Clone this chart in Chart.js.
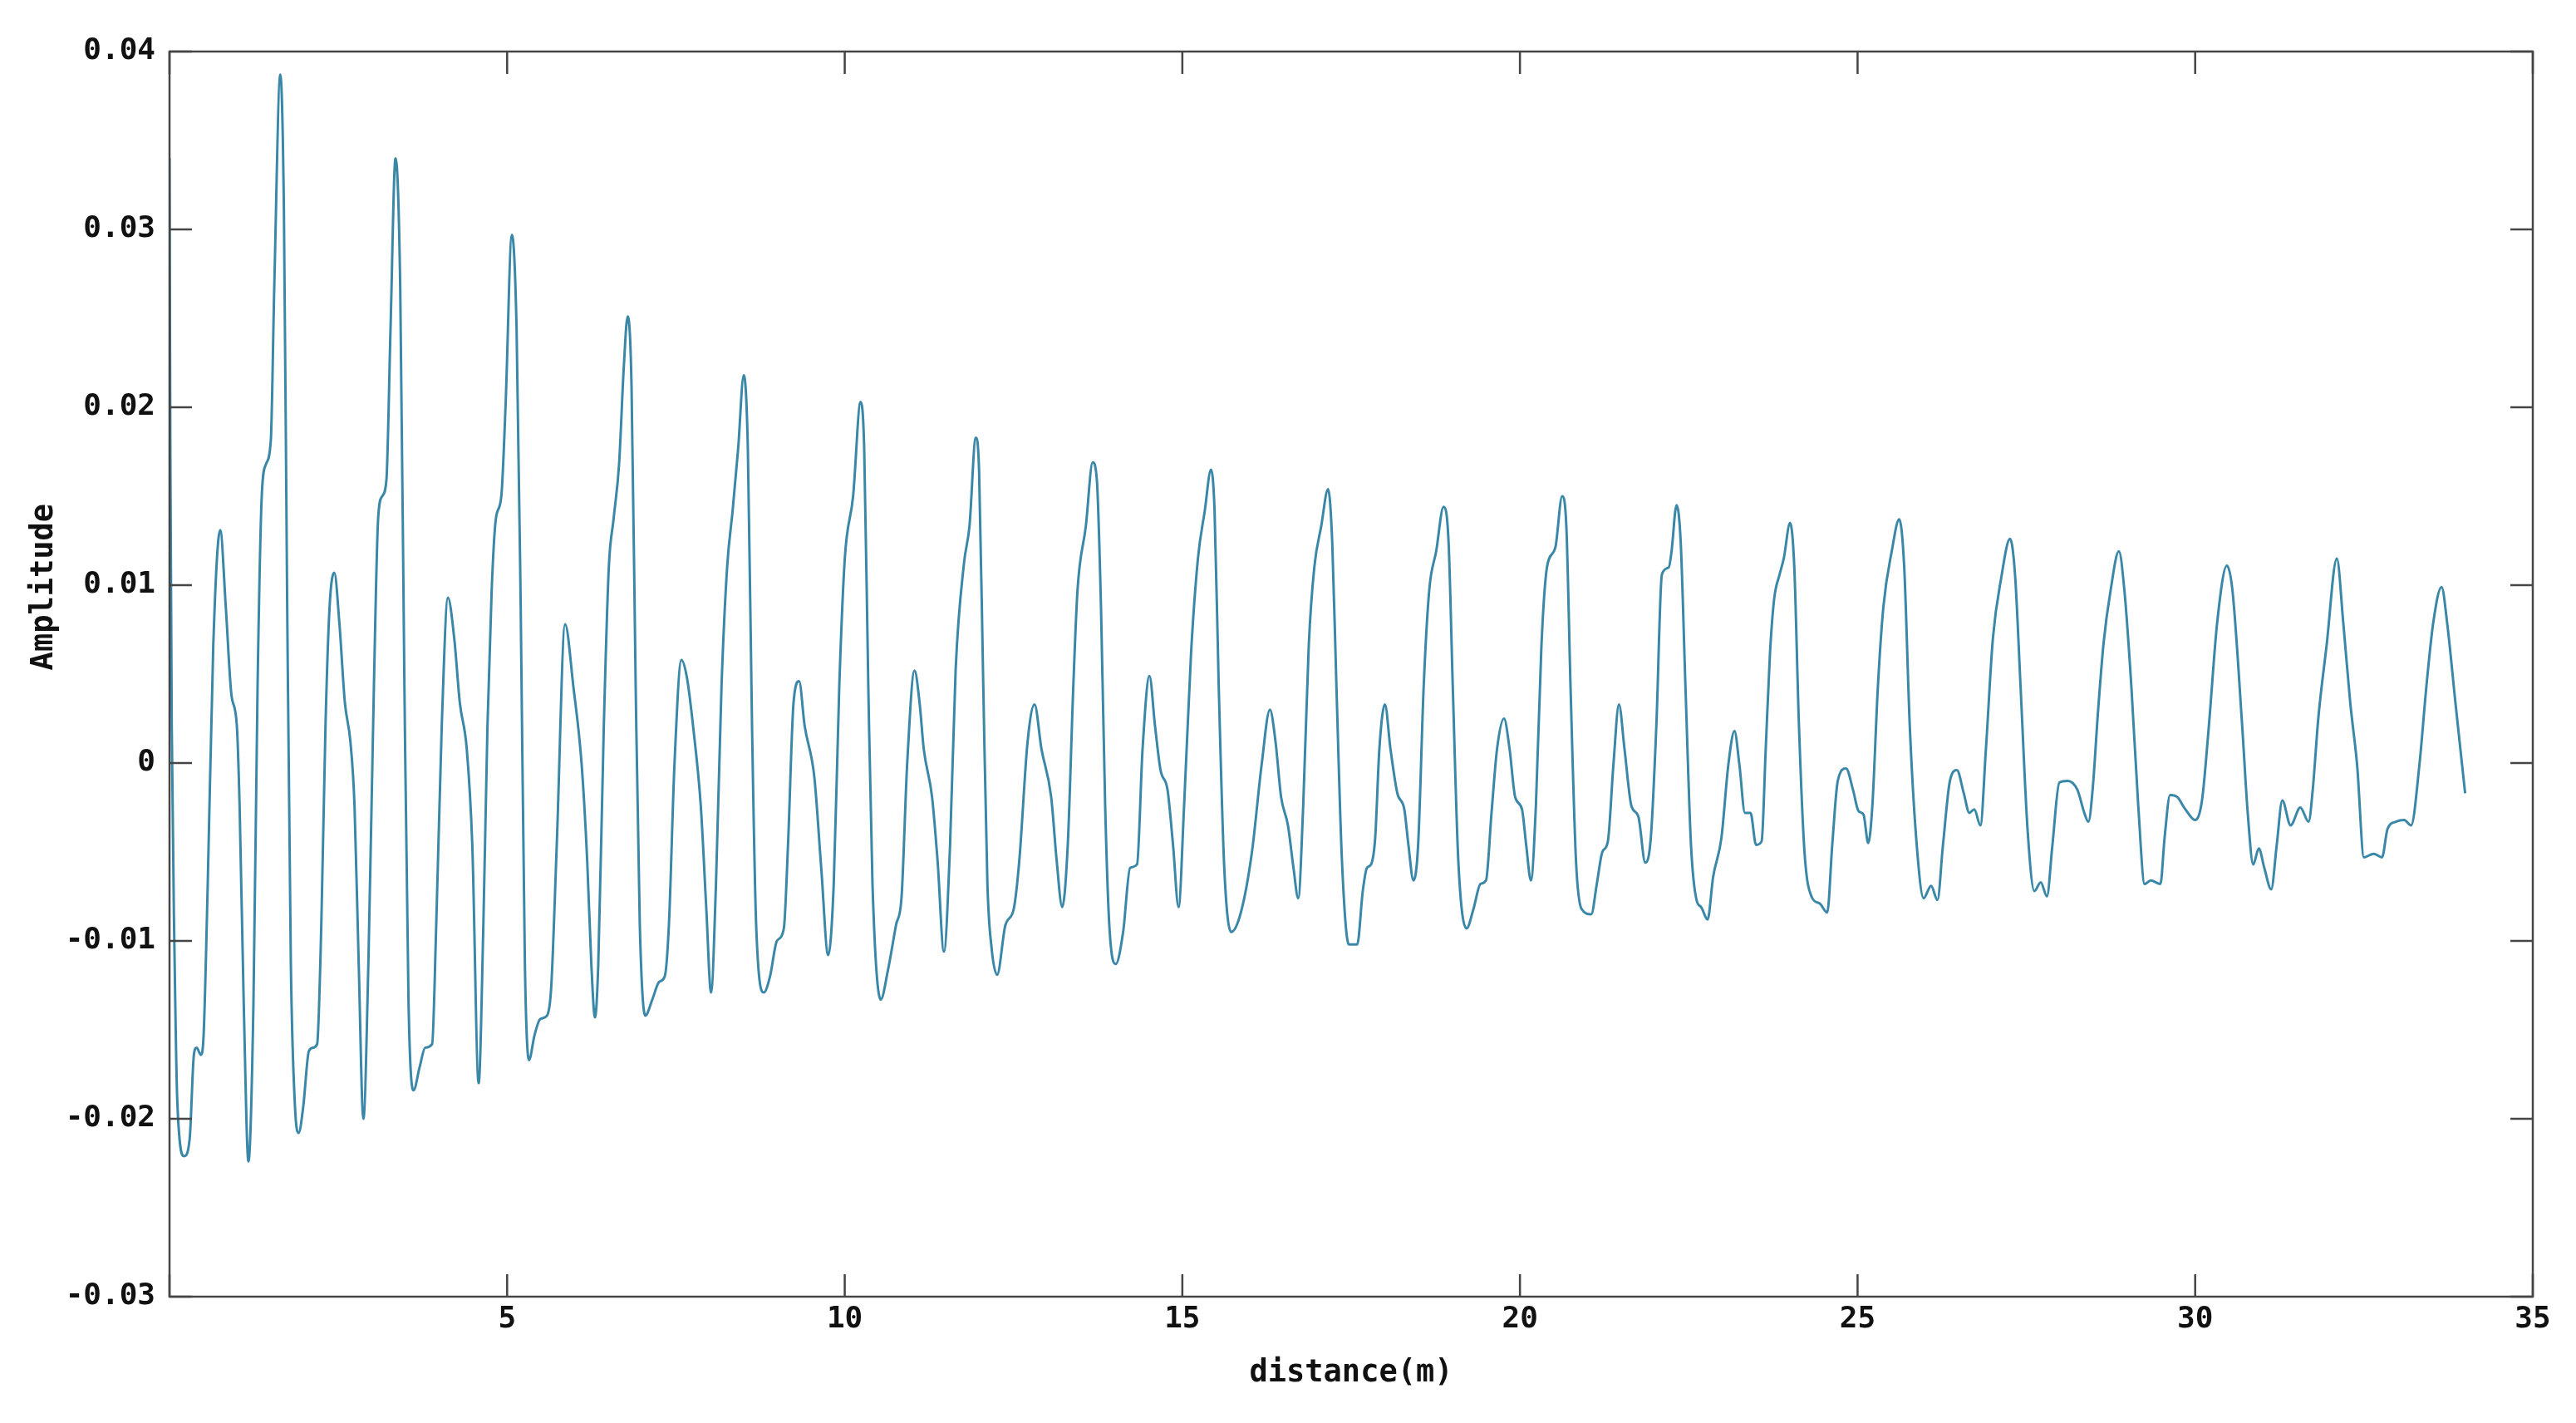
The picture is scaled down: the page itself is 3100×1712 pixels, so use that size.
<!DOCTYPE html>
<html>
<head>
<meta charset="utf-8">
<title>Amplitude vs distance</title>
<script src="https://cdn.jsdelivr.net/npm/chart.js@4.4.1/dist/chart.umd.min.js"></script>
<style>
  html, body { margin: 0; padding: 0; background: #fff; }
  canvas { display: block; }
</style>
</head>
<body>
<canvas id="waveChart" width="3100" height="1712"></canvas>
<script>
// distance (m)
const distance = [
  0, 0.012, 0.033, 0.074, 0.115, 0.217, 0.299, 0.361, 0.402, 0.464, 0.505, 0.566, 0.648, 0.751, 0.833, 0.915, 0.997,
  1.038, 1.099, 1.169, 1.243, 1.304, 1.366, 1.428, 1.501, 1.551, 1.641, 1.694, 1.743, 1.797, 1.858, 1.912, 1.981,
  2.063, 2.125, 2.186, 2.248, 2.310, 2.371, 2.441, 2.515, 2.597, 2.679, 2.740, 2.802, 2.871, 2.945,
  3.027, 3.089, 3.150, 3.212, 3.273, 3.347, 3.417, 3.479, 3.540, 3.614, 3.704, 3.786, 3.889, 3.950,
  4.032, 4.123, 4.217, 4.299, 4.402, 4.484, 4.578, 4.648, 4.709, 4.771, 4.832, 4.914, 4.976,
  5.070, 5.140, 5.201, 5.263, 5.324, 5.406, 5.488, 5.591, 5.653, 5.735, 5.858, 5.981,
  6.104, 6.186, 6.247, 6.301, 6.350, 6.432, 6.506, 6.576, 6.658, 6.727, 6.785, 6.842, 6.904, 6.965,
  7.047, 7.150, 7.252, 7.334, 7.396, 7.478, 7.581, 7.663, 7.765, 7.868, 7.950,
  8.020, 8.093, 8.175, 8.258, 8.340, 8.422, 8.504, 8.565, 8.627, 8.688, 8.803, 8.893, 8.996,
  9.098, 9.160, 9.242, 9.324, 9.406, 9.550, 9.652, 9.755, 9.837, 9.919,
  10.001, 10.124, 10.235, 10.288, 10.349, 10.411, 10.534, 10.637, 10.760, 10.842, 10.924,
  11.034, 11.108, 11.170, 11.293, 11.375, 11.469, 11.560, 11.642, 11.765, 11.847, 11.941, 11.990,
  12.052, 12.113, 12.175, 12.257, 12.380, 12.503, 12.585, 12.708, 12.811, 12.913,
  13.057, 13.139, 13.221, 13.303, 13.385, 13.447, 13.570, 13.672, 13.734, 13.795, 13.857, 13.918,
  14.013, 14.123, 14.226, 14.329, 14.411, 14.513, 14.595, 14.677, 14.780, 14.862, 14.944,
  15.026, 15.128, 15.231, 15.333, 15.424, 15.477, 15.539, 15.621, 15.723, 15.867,
  16.031, 16.174, 16.297, 16.380, 16.462, 16.564, 16.646, 16.716, 16.790, 16.872, 16.954,
  17.056, 17.159, 17.220, 17.282, 17.364, 17.466, 17.590, 17.672, 17.733, 17.795, 17.856, 17.918,
  18.000, 18.082, 18.184, 18.287, 18.348, 18.422, 18.492, 18.574, 18.656, 18.759, 18.869, 18.943,
  19.005, 19.087, 19.210, 19.312, 19.415, 19.497, 19.579, 19.661, 19.764, 19.846, 19.928,
  20.030, 20.092, 20.162, 20.236, 20.318, 20.400, 20.523, 20.625, 20.687, 20.749, 20.830, 20.912,
  21.056, 21.138, 21.220, 21.302, 21.384, 21.466, 21.548, 21.650, 21.753, 21.856, 21.938,
  22.020, 22.102, 22.204, 22.245, 22.319, 22.381, 22.451, 22.533, 22.615, 22.684, 22.779, 22.861, 22.984,
  23.086, 23.177, 23.250, 23.332, 23.414, 23.497, 23.579, 23.640, 23.702, 23.764, 23.845, 23.907,
  24.001, 24.063, 24.132, 24.214, 24.317, 24.440, 24.551, 24.625, 24.707, 24.830, 24.932,
  25.014, 25.088, 25.158, 25.219, 25.301, 25.383, 25.506, 25.617, 25.691, 25.773, 25.876, 25.978,
  26.089, 26.183, 26.265, 26.368, 26.471, 26.573, 26.655, 26.729, 26.819, 26.901,
  27.004, 27.127, 27.258, 27.332, 27.414, 27.517, 27.619, 27.713, 27.804, 27.886, 27.988,
  28.111, 28.255, 28.358, 28.419, 28.481, 28.563, 28.645, 28.747, 28.870, 28.952,
  29.055, 29.157, 29.252, 29.342, 29.485, 29.547, 29.629, 29.731, 29.854, 29.998,
  30.101, 30.203, 30.326, 30.470, 30.552, 30.696, 30.778, 30.860, 30.942,
  31.024, 31.126, 31.208, 31.290, 31.413, 31.557, 31.680, 31.741, 31.823, 31.946,
  32.098, 32.193, 32.296, 32.398, 32.500, 32.644, 32.767, 32.849, 32.972,
  33.095, 33.198, 33.321, 33.424, 33.526, 33.649, 33.731, 33.854, 33.998
];

// amplitude at each distance
const amplitude = [
  0.0340, 0.0174, 0.0021, -0.0107, -0.0190, -0.0221, -0.0211, -0.0164, -0.0160, -0.0164, -0.0153, -0.0068, 0.0066, 0.0131, 0.0088, 0.0039, 0.0021,
  -0.0024, -0.0135, -0.0224, -0.0135, 0.0043, 0.0150, 0.0168, 0.0182, 0.0267, 0.0387, 0.0311, 0.0088, -0.0113, -0.0193, -0.0208, -0.0193,
  -0.0162, -0.0160, -0.0158, -0.0091, 0.0021, 0.0088, 0.0107, 0.0079, 0.0034, 0.0012, -0.0024, -0.0113, -0.0200, -0.0113,
  0.0043, 0.0137, 0.0150, 0.0159, 0.0244, 0.0340, 0.0267, 0.0043, -0.0135, -0.0184, -0.0171, -0.0160, -0.0158, -0.0091,
  0.0021, 0.0093, 0.0070, 0.0034, 0.0008, -0.0046, -0.0180, -0.0091, 0.0021, 0.0097, 0.0137, 0.0150, 0.0200,
  0.0297, 0.0244, 0.0088, -0.0113, -0.0167, -0.0153, -0.0144, -0.0142, -0.0126, -0.0046, 0.0078, 0.0043,
  -0.0001, -0.0055, -0.0113, -0.0143, -0.0113, 0.0021, 0.0110, 0.0137, 0.0168, 0.0222, 0.0251, 0.0213, 0.0043, -0.0091,
  -0.0142, -0.0133, -0.0123, -0.0120, -0.0091, -0.0001, 0.0058, 0.0048, 0.0017, -0.0024, -0.0082,
  -0.0129, -0.0068, 0.0043, 0.0110, 0.0142, 0.0177, 0.0218, 0.0177, 0.0021, -0.0091, -0.0129, -0.0120, -0.0100,
  -0.0093, -0.0046, 0.0034, 0.0046, 0.0021, -0.0008, -0.0059, -0.0108, -0.0068, 0.0043,
  0.0115, 0.0150, 0.0203, 0.0177, 0.0043, -0.0068, -0.0133, -0.0117, -0.0091, -0.0075, -0.0001,
  0.0052, 0.0034, 0.0008, -0.0019, -0.0055, -0.0106, -0.0046, 0.0052, 0.0112, 0.0133, 0.0183, 0.0164,
  0.0043, -0.0068, -0.0104, -0.0119, -0.0091, -0.0082, -0.0055, 0.0012, 0.0033, 0.0008,
  -0.0019, -0.0055, -0.0081, -0.0046, 0.0043, 0.0097, 0.0133, 0.0169, 0.0159, 0.0088, -0.0024, -0.0091,
  -0.0113, -0.0095, -0.0059, -0.0057, 0.0008, 0.0049, 0.0021, -0.0004, -0.0015, -0.0046, -0.0081,
  -0.0024, 0.0061, 0.0115, 0.0142, 0.0165, 0.0142, 0.0043, -0.0059, -0.0095, -0.0084,
  -0.0050, -0.0001, 0.0030, 0.0012, -0.0019, -0.0035, -0.0059, -0.0076, -0.0024, 0.0066, 0.0110,
  0.0133, 0.0154, 0.0124, 0.0043, -0.0055, -0.0102, -0.0102, -0.0072, -0.0059, -0.0057, -0.0042, 0.0008,
  0.0033, 0.0008, -0.0017, -0.0026, -0.0046, -0.0066, -0.0046, 0.0043, 0.0097, 0.0119, 0.0144, 0.0124,
  0.0043, -0.0055, -0.0093, -0.0082, -0.0068, -0.0066, -0.0028, 0.0008, 0.0025, 0.0008, -0.0019,
  -0.0026, -0.0046, -0.0066, -0.0024, 0.0066, 0.0110, 0.0121, 0.0150, 0.0133, 0.0043, -0.0055, -0.0082,
  -0.0085, -0.0068, -0.0050, -0.0044, -0.0001, 0.0033, 0.0008, -0.0024, -0.0030, -0.0056, -0.0042,
  0.0021, 0.0106, 0.0110, 0.0119, 0.0145, 0.0124, 0.0043, -0.0046, -0.0077, -0.0081, -0.0088, -0.0064, -0.0042,
  -0.0001, 0.0018, -0.0001, -0.0028, -0.0028, -0.0046, -0.0044, 0.0008, 0.0061, 0.0092, 0.0106, 0.0115,
  0.0135, 0.0110, 0.0021, -0.0050, -0.0075, -0.0079, -0.0084, -0.0046, -0.0010, -0.0003, -0.0015,
  -0.0027, -0.0029, -0.0045, -0.0024, 0.0043, 0.0088, 0.0119, 0.0137, 0.0110, 0.0021, -0.0046, -0.0076,
  -0.0069, -0.0077, -0.0046, -0.0010, -0.0004, -0.0017, -0.0028, -0.0026, -0.0035, 0.0008,
  0.0070, 0.0104, 0.0126, 0.0106, 0.0043, -0.0037, -0.0072, -0.0067, -0.0075, -0.0046, -0.0011,
  -0.0010, -0.0015, -0.0028, -0.0033, -0.0015, 0.0030, 0.0068, 0.0097, 0.0119, 0.0097,
  0.0043, -0.0024, -0.0068, -0.0066, -0.0068, -0.0042, -0.0018, -0.0019, -0.0026, -0.0032,
  -0.0021, 0.0021, 0.0079, 0.0111, 0.0097, 0.0021, -0.0028, -0.0057, -0.0048,
  -0.0059, -0.0071, -0.0046, -0.0021, -0.0035, -0.0025, -0.0033, -0.0015, 0.0025, 0.0066,
  0.0115, 0.0079, 0.0034, -0.0001, -0.0053, -0.0051, -0.0053, -0.0037, -0.0033,
  -0.0032, -0.0035, -0.0001, 0.0043, 0.0079, 0.0099, 0.0079, 0.0034, -0.0017
];

const xTickLabels = ['', '5', '10', '15', '20', '25', '30', '35'];
const yTickLabels = ['-0.03', '-0.02', '-0.01', '0', '0.01', '0.02', '0.03', '0.04'];

const FONT = 'DejaVu Sans Mono';

// box round the plot with inward ticks on all four sides, plus the y title
const frameAndTicks = {
    id: 'frameAndTicks',
    afterDatasetsDraw(chart) {
        const { ctx, chartArea: a, scales: { x, y } } = chart;
        const len = 27;
        ctx.save();
        ctx.strokeStyle = '#454545';
        ctx.lineWidth = 2.5;
        ctx.strokeRect(a.left, a.top, a.right - a.left, a.bottom - a.top);
        ctx.beginPath();
        x.ticks.forEach(t => {
            const px = x.getPixelForValue(t.value);
            ctx.moveTo(px, a.bottom); ctx.lineTo(px, a.bottom - len);
            ctx.moveTo(px, a.top); ctx.lineTo(px, a.top + len);
        });
        y.ticks.forEach(t => {
            const py = y.getPixelForValue(t.value);
            ctx.moveTo(a.left, py); ctx.lineTo(a.left + len, py);
            ctx.moveTo(a.right, py); ctx.lineTo(a.right - len, py);
        });
        ctx.stroke();

        // "Amplitude" sits a bit above the middle of the axis
        ctx.translate(53, a.top + (a.bottom - a.top) * 0.43);
        ctx.rotate(-Math.PI / 2);
        ctx.fillStyle = '#111';
        ctx.font = 'bold 37px "' + FONT + '"';
        ctx.textAlign = 'center';
        ctx.textBaseline = 'middle';
        ctx.fillText('Amplitude', 0, 0);
        ctx.restore();
    }
};

const ctx = document.getElementById('waveChart').getContext('2d');
const waveChart = new Chart(ctx, {
    type: 'line',
    data: {
        datasets: [{
            label: 'Amplitude',
            data: distance.map((d, i) => ({ x: d, y: amplitude[i] })),
            borderColor: '#3a87a8',
            borderWidth: 3,
            pointRadius: 0,
            fill: false,
            cubicInterpolationMode: 'monotone'
        }]
    },
    options: {
        responsive: false,
        animation: false,
        devicePixelRatio: 1,
        layout: { padding: { top: 62, right: 52, left: 0, bottom: 0 } },
        plugins: {
            legend: { display: false },
            tooltip: { enabled: false }
        },
        scales: {
            x: {
                type: 'linear',
                min: 0,
                max: 35,
                grid: { display: false, drawTicks: false },
                border: { display: false },
                ticks: {
                    stepSize: 5,
                    autoSkip: false,
                    maxRotation: 0,
                    padding: 6,
                    color: '#111',
                    font: { family: FONT, size: 36, weight: 'bold' },
                    callback: (v, i) => xTickLabels[i]
                },
                title: {
                    display: true,
                    text: 'distance(m)',
                    color: '#111',
                    font: { family: FONT, size: 37, weight: 'bold' },
                    padding: { top: 0, bottom: 37 }
                },
                afterFit: s => { s.height = 152; }
            },
            y: {
                min: -0.03,
                max: 0.04,
                grid: { display: false, drawTicks: false },
                border: { display: false },
                ticks: {
                    stepSize: 0.01,
                    padding: 17,
                    color: '#111',
                    font: { family: FONT, size: 36, weight: 'bold' },
                    callback: (v, i) => yTickLabels[i]
                },
                afterFit: s => { s.width = 204; }
            }
        }
    },
    plugins: [frameAndTicks]
});
</script>
</body>
</html>
